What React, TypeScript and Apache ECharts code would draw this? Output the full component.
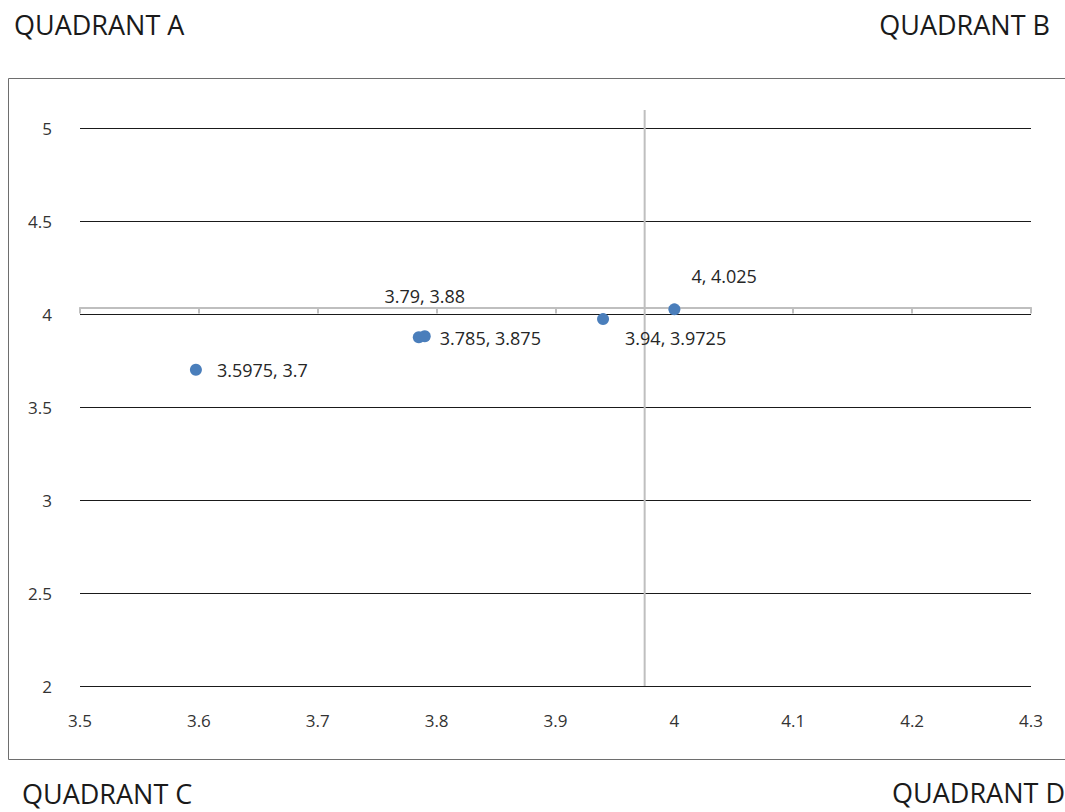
import React, { useEffect, useRef } from "react";
import * as echarts from "echarts";

const xTicks = [3.5, 3.6, 3.7, 3.8, 3.9, 4, 4.1, 4.2, 4.3];
const yTicks = [2, 2.5, 3, 3.5, 4, 4.5, 5];
const pointsX = [3.5975, 3.785, 3.79, 3.94, 4];
const pointsY = [3.7, 3.875, 3.88, 3.9725, 4.025];
const labelOffsets: [number, number][] = [
  [15, 0],
  [15, 1],
  [-40, -41],
  [16, 19],
  [11, -33],
];
const crossX = 3.975;
const quadrantLabels = ["QUADRANT A", "QUADRANT B", "QUADRANT C", "QUADRANT D"];

const FONT = "'Open Sans', 'Noto Sans', sans-serif";

export default function App() {
  const ref = useRef<HTMLDivElement>(null);
  useEffect(() => {
    if (!ref.current) return;
    const chart = echarts.init(ref.current, null, { renderer: "svg" });
    const data = pointsX.map((x, i) => ({
      value: [x, pointsY[i]],
      label: {
        show: true,
        position: labelOffsets[i][0] < 0 ? "top" : "right",
        offset: labelOffsets[i][0] < 0 ? [0, 0] : [labelOffsets[i][0] - 15, labelOffsets[i][1]],
        distance: labelOffsets[i][0] < 0 ? 25 : 15,
        formatter: `${x}, ${pointsY[i]}`,
      },
    }));
    chart.setOption({
      animation: false,
      textStyle: { fontFamily: FONT },
      grid: { left: 80, right: 34, top: 128, bottom: 126, outerBoundsMode: "none" },
      xAxis: [
        {
          type: "value",
          min: 3.5,
          max: 4.3,
          interval: 0.1,
          axisLine: { show: false },
          axisTick: { show: false },
          splitLine: { show: false },
          axisLabel: {
            margin: 26,
            fontSize: 17,
            color: "#333333",
            fontFamily: FONT,
            formatter: (v: number) => {
              const m = xTicks.find((t) => Math.abs(t - v) < 1e-6);
              return m === undefined ? "" : String(m);
            },
          },
        },
        {
          type: "value",
          position: "bottom",
          offset: -378.5,
          min: 3.5,
          max: 4.3,
          interval: 0.1,
          axisLine: { show: true, lineStyle: { color: "#bfbfbf", width: 2 } },
          axisTick: { show: true, length: 6, lineStyle: { color: "#bfbfbf", width: 2 } },
          axisLabel: { show: false },
          splitLine: { show: false },
        },
      ],
      yAxis: {
        type: "value",
        min: 2,
        max: 5,
        interval: 0.5,
        axisLine: { show: false },
        axisTick: { show: false },
        splitLine: { show: true, lineStyle: { color: "#1a1a1a", width: 1 } },
        axisLabel: {
          margin: 28,
          fontSize: 17,
          color: "#333333",
          fontFamily: FONT,
          formatter: (v: number) => {
            const m = yTicks.find((t) => Math.abs(t - v) < 1e-6);
            return m === undefined ? "" : String(m);
          },
        },
      },
      series: [
        {
          type: "line",
          data: [
            [crossX, 2],
            [crossX, 5.097],
          ],
          showSymbol: false,
          symbol: "none",
          clip: false,
          lineStyle: { color: "#bfbfbf", width: 2 },
          silent: true,
          z: 1,
        },
        {
          type: "scatter",
          symbolSize: 12,
          itemStyle: { color: "#4a7ebb", opacity: 1 },
          label: { color: "#262626", fontSize: 18, fontFamily: FONT },
          data,
          z: 5,
        },
      ],
      graphic: [
        {
          type: "rect",
          shape: { x: 8.5, y: 78.5, width: 1080, height: 681 },
          style: { fill: "none", stroke: "#6e6e6e", lineWidth: 1 },
          silent: true,
          z: -10,
        },
        {
          type: "text",
          left: 14,
          top: 11,
          style: { text: quadrantLabels[0], fontSize: 27, fill: "#1a1a1a", fontFamily: FONT },
        },
        {
          type: "text",
          right: 15,
          top: 11,
          style: { text: quadrantLabels[1], fontSize: 27, fill: "#1a1a1a", fontFamily: FONT },
        },
        {
          type: "text",
          left: 22,
          top: 780,
          style: { text: quadrantLabels[2], fontSize: 27, fill: "#1a1a1a", fontFamily: FONT },
        },
        {
          type: "text",
          right: 0,
          top: 779,
          style: { text: quadrantLabels[3], fontSize: 27, fill: "#1a1a1a", fontFamily: FONT },
        },
      ],
    });
    return () => chart.dispose();
  }, []);
  return (
    <div
      ref={ref}
      style={{ position: "fixed", left: 0, top: 0, width: 1065, height: 812, background: "#fff" }}
    />
  );
}
